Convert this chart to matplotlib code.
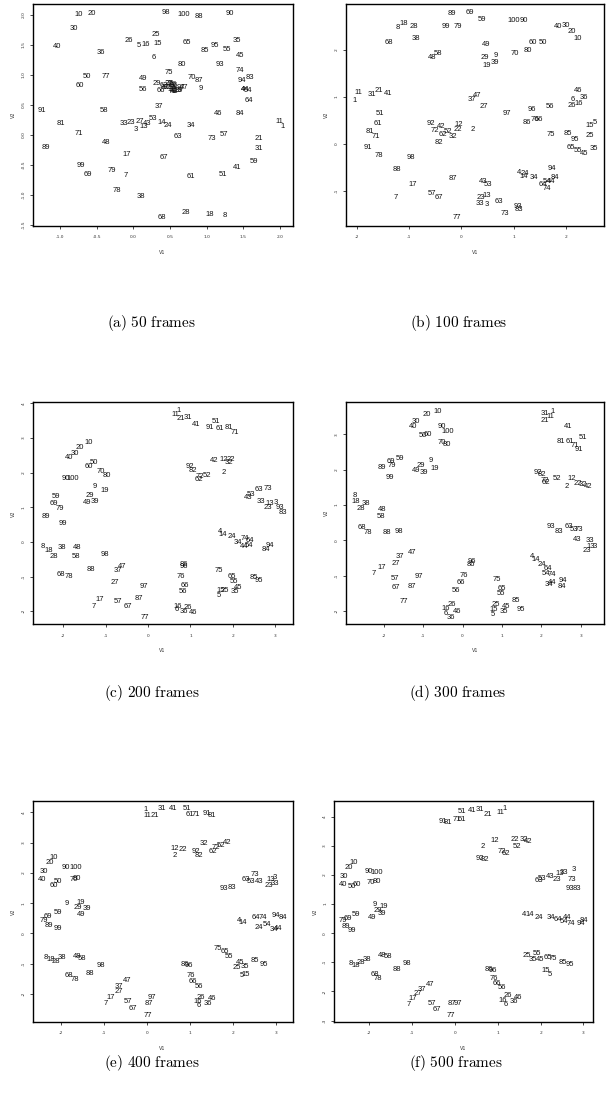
#! /usr/bin/env python3

# Six MDS-style text plots: each point is drawn as its frame number.

import matplotlib
matplotlib.use("Agg")
import matplotlib.pyplot as plt
from matplotlib import font_manager

labels = [str(i) for i in range(1, 101)]

a_x = [2.036, 0.545, 0.032, 1.50, 0.073, 0.273, -0.10, 1.245, 0.918, -0.741,
       1.991, 0.523, 0.141, 0.386, 0.336, 0.173, -0.091, 1.045, 0.605, -0.573,
       1.709, 0.491, -0.032, 0.473, 0.309, -0.055, 0.091, 0.718, 0.318, -0.809,
       1.718, 0.545, -0.123, 0.786, 1.409, -0.445, 0.355, 0.10, 0.627, -1.036,
       1.423, 0.555, 0.191, 1.527, 1.464, 1.159, 0.70, -0.377, 0.136, -0.627,
       1.227, 0.527, 0.264, 1.568, 1.282, 0.136, 1.232, -0.40, 1.645, -0.727,
       0.782, 0.418, 0.609, 1.577, 0.736, 0.382, 0.423, 0.391, -0.614, 0.80,
       -0.741, 0.536, 1.077, 1.455, 0.482, 0.50, -0.377, -0.227, -0.295, 0.664,
       -0.991, 0.432, 1.591, 1.455, 0.977, 0.545, 0.90, 0.891, -1.191, 1.318,
       -1.245, 0.455, 1.182, 1.482, 1.118, 0.555, 0.645, 0.445, -0.709, 0.682]
a_y = [0.14, 0.74, 0.09, 0.76, 1.49, 1.29, -0.68, -1.34, 0.78, 2.01,
       0.22, 0.75, 0.14, 0.21, 1.52, 1.50, -0.32, -1.33, 0.74, 2.03,
       -0.06, 0.86, 0.21, 0.15, 1.67, 1.58, 0.22, -1.29, 0.85, 1.78,
       -0.23, 0.76, 0.19, 0.15, 1.57, 1.38, 0.47, -1.03, 0.74, 1.48,
       -0.54, 0.72, 0.19, 0.76, 1.33, 0.36, 0.79, -0.13, 0.94, 0.98,
       -0.66, 0.79, 0.27, 0.74, 1.43, 0.76, 0.01, 0.40, -0.44, 0.83,
       -0.69, 0.82, -0.03, 0.58, 1.54, 0.74, -0.38, -1.38, -0.65, 0.96,
       0.02, 0.72, -0.06, 1.08, 1.04, 0.86, 0.98, -0.93, -0.59, 1.18,
       0.19, 0.79, 0.96, 0.36, 1.40, 0.84, 0.90, 1.98, -0.21, 2.03,
       0.40, 0.79, 1.18, 0.90, 1.49, 0.83, 0.79, 2.04, -0.50, 2.01]

b_x = [-2.032, 0.21, 0.49, 1.102, 2.554, 2.121, -1.255, -1.21, 0.65, 2.229,
       -1.968, -0.057, 0.484, 1.197, 2.459, 2.248, -0.93, -1.10, 0.484, 2.115,
       -1.586, -0.076, 0.376, 1.217, 2.459, 2.115, 0.42, -0.904, 0.452, 1.994,
       -1.70, -0.153, 0.357, 1.389, 2.522, 2.331, 0.197, -0.86, 0.643, 1.841,
       -1.395, -0.389, 0.42, 1.713, 2.338, 2.236, 0.293, -0.554, 0.478, 1.567,
       -1.548, -0.261, 0.516, 1.643, 2.223, 1.70, -0.567, -0.452, 0.401, 1.357,
       -1.586, -0.357, 0.707, 1.554, 2.089, 1.471, -0.427, -1.382, 0.166, 1.025,
       -1.637, -0.503, 0.822, 1.631, 1.713, 1.408, -0.089, -1.586, -0.07, 1.261,
       -1.752, -0.427, 1.10, 1.79, 2.025, 1.242, -0.172, -1.229, -0.185, 1.185,
       -1.79, -0.592, 1.07, 1.726, 2.172, 1.344, 0.873, -0.962, -0.299, 1.0]
b_y = [0.91, 0.30, -1.28, -0.61, 0.45, 0.95, -1.14, 2.48, 1.87, 2.23,
       1.09, 0.42, -1.09, -0.70, 0.38, 0.86, -0.86, 2.56, 1.67, 2.38,
       1.13, 0.30, -1.14, -0.64, 0.17, 0.82, 0.79, 2.49, 1.84, 2.52,
       1.05, 0.16, -1.26, -0.71, -0.09, 0.98, 0.95, 2.24, 1.72, 2.49,
       1.06, 0.36, -0.79, -0.79, -0.20, 1.13, 1.02, 1.83, 2.10, 2.15,
       0.65, 0.26, -0.86, -0.79, -0.15, 0.80, -1.05, 1.92, 2.65, 2.16,
       0.43, 0.20, -1.23, -0.86, -0.07, 0.52, -1.14, 2.15, 2.80, 1.91,
       0.15, 0.29, -1.48, -0.94, 0.20, 0.52, -1.57, -0.255, 2.49, 1.98,
       0.26, 0.03, -1.40, -0.72, 0.22, 0.45, -0.73, -0.54, 2.76, 2.61,
       -0.07, 0.43, -1.33, -0.53, 0.10, 0.72, 0.65, -0.28, 2.50, 2.63]

c_x = [0.73, 1.774, 3.014, 1.695, 1.68, 0.675, -1.272, -2.488, -1.248, -1.405,
       0.651, 1.774, 2.873, 1.758, 1.711, 0.699, -1.13, -2.339, -1.028, -1.60,
       0.769, 1.947, 2.834, 1.986, 1.813, 0.934, -0.793, -2.214, -1.366, -1.735,
       0.95, 1.90, 2.653, 2.127, 2.049, 0.856, -0.722, -2.025, -1.248, -1.87,
       1.13, 1.554, 2.363, 2.261, 2.135, 1.052, -0.62, -1.68, -1.444, -1.287,
       1.593, 1.389, 2.418, 2.386, 2.025, 0.832, -0.714, -1.688, -2.166, -1.397,
       1.695, 1.209, 2.622, 2.40, 1.978, 0.879, -0.487, -2.049, -2.229, -1.115,
       2.056, 1.209, 2.834, 2.284, 1.68, 0.777, -0.071, -1.876, -2.088, -0.973,
       1.90, 1.068, 3.171, 2.779, 2.504, 0.848, -0.212, -1.358, -2.418, -1.939,
       1.46, 0.989, 3.108, 2.873, 2.622, 0.856, -0.11, -1.013, -2.017, -1.766]
c_y = [3.79, 2.0, 1.14, 0.31, -1.54, -1.94, -1.875, -0.12, 1.60, 2.87,
       3.69, 2.39, 1.10, 0.22, -1.41, -1.86, -1.65, -0.24, 1.47, 2.72,
       3.55, 2.38, 0.99, 0.16, -1.39, -1.90, -1.18, -0.41, 1.33, 2.56,
       3.59, 2.30, 1.18, -0.03, -1.42, -2.02, -0.82, -0.16, 1.18, 2.44,
       3.40, 2.34, 1.28, -0.14, -1.33, -2.04, -0.72, -0.16, 1.13, 2.29,
       3.47, 1.93, 1.37, -0.10, -1.15, -1.42, -1.71, -0.41, 1.31, 2.17,
       3.26, 1.81, 1.52, 0.05, -0.99, -1.25, -1.875, -0.93, 1.12, 2.03,
       3.15, 1.90, 1.53, 0.10, -0.82, -1.01, -2.18, -1.01, 0.95, 1.93,
       3.30, 2.06, 0.85, -0.22, -1.04, -0.64, -1.63, -0.79, 0.74, 1.84,
       3.30, 2.17, 0.99, -0.10, -1.11, -0.70, -1.28, -0.36, 0.53, 1.84]

d_x = [2.276, 2.648, 3.36, 1.768, 0.761, -0.44, -2.259, -2.75, -0.821, -0.643,
       2.242, 2.783, 3.249, 1.853, 0.778, -0.423, -2.056, -2.707, -0.702, -0.914,
       2.09, 2.936, 3.147, 2.005, 0.838, -0.262, -1.701, -2.58, -1.058, -1.184,
       2.09, 3.063, 3.223, 2.20, 1.049, -0.305, -1.591, -2.445, -0.981, -1.269,
       2.682, 3.19, 2.919, 2.276, 1.108, -0.144, -1.278, -2.056, -1.193, -0.998,
       3.071, 2.403, 2.834, 2.107, 0.964, -0.161, -1.709, -2.081, -1.599, -0.888,
       2.724, 2.107, 2.699, 2.174, 0.99, -0.042, -1.692, -2.563, -1.819, -0.533,
       2.851, 2.09, 2.961, 2.276, 0.871, 0.042, -1.489, -2.42, -1.802, -0.389,
       2.496, 2.005, 2.445, 2.53, 1.362, 0.212, -1.278, -1.912, -2.039, -0.533,
       2.961, 1.92, 2.242, 2.555, 1.489, 0.245, -1.10, -1.616, -1.853, -0.381]
d_y = [3.65, 1.52, -0.19, -0.47, -2.09, -2.07, -0.94, 1.26, 2.26, 3.65,
       3.49, 1.76, -0.19, -0.54, -1.97, -1.94, -0.78, 1.09, 2.02, 3.56,
       3.40, 1.60, -0.28, -0.70, -1.83, -1.83, -0.66, 0.91, 2.12, 3.35,
       3.59, 1.58, 0.0, -1.24, -2.02, -2.18, -0.47, 1.05, 1.93, 3.23,
       3.23, 1.52, 0.03, -1.19, -1.88, -2.02, -0.35, 0.88, 1.96, 2.95,
       2.92, 1.74, 0.30, -0.94, -1.52, -1.41, -1.08, 0.68, 2.31, 2.99,
       2.78, 1.62, 0.38, -0.80, -1.38, -1.20, -1.34, 0.36, 2.24, 2.76,
       2.69, 1.69, 0.31, -0.96, -1.10, -1.0, -1.74, 0.21, 2.12, 2.72,
       2.80, 1.86, 0.26, -1.31, -1.72, -0.69, -1.31, 0.21, 2.05, 3.21,
       2.57, 1.93, 0.39, -1.15, -1.97, -0.61, -1.03, 0.25, 1.77, 3.09]

e_x = [-0.031, 0.643, 2.977, 2.132, 2.217, 1.209, -0.953, -2.349, -1.868, -2.163,
       0.016, 0.651, 2.876, 2.217, 2.295, 1.171, -0.845, -2.233, -1.535, -2.256,
       0.186, 0.845, 2.845, 2.612, 2.085, 1.256, -0.667, -2.124, -1.612, -2.411,
       0.341, 1.326, 2.977, 2.953, 2.279, 1.426, -0.651, -1.984, -1.403, -2.438,
       0.597, 1.853, 2.612, 3.054, 2.163, 1.519, -0.473, -1.636, -1.535, -2.062,
       0.922, 1.713, 2.411, 2.798, 1.907, 1.209, -0.434, -1.519, -2.078, -2.163,
       1.0, 1.543, 2.302, 2.535, 1.814, 1.078, -0.318, -1.814, -2.31, -1.71,
       1.14, 1.605, 2.512, 2.705, 1.659, 1.023, 0.016, -1.69, -2.411, -1.63,
       1.504, 1.217, 1.969, 3.155, 2.512, 0.884, 0.047, -1.326, -2.295, -1.884,
       1.403, 1.14, 1.791, 2.992, 2.721, 0.984, 0.109, -1.07, -2.078, -1.667]
e_y = [4.08, 2.58, 1.85, 0.42, -1.40, -2.36, -2.31, -0.80, 0.99, 2.51,
       3.88, 2.80, 1.78, 0.36, -1.34, -2.25, -2.12, -0.85, 1.02, 2.33,
       3.89, 2.77, 1.57, 0.20, -1.13, -2.11, -1.90, -0.91, 0.86, 2.05,
       4.11, 2.96, 1.65, 0.13, -1.10, -2.31, -1.74, -0.79, 0.82, 1.77,
       4.11, 3.0, 1.70, 0.16, -0.96, -2.16, -1.54, -0.75, 0.64, 1.73,
       4.11, 2.89, 1.73, 0.31, -0.75, -1.76, -2.25, -0.82, 0.68, 1.59,
       3.91, 2.72, 1.79, 0.52, -0.60, -1.57, -2.47, -1.37, 0.55, 1.78,
       3.91, 2.83, 1.95, 0.53, -0.49, -1.37, -2.71, -1.51, 0.44, 1.81,
       3.88, 2.58, 1.51, 0.52, -0.88, -1.01, -2.31, -1.32, 0.25, 2.16,
       3.97, 2.71, 1.48, 0.58, -1.02, -1.07, -2.12, -1.04, 0.16, 2.16]

f_x = [1.167, 0.646, 2.763, 1.619, 2.226, 1.191, -1.089, -2.428, -1.883, -2.374,
       1.05, 0.918, 2.436, 1.751, 2.125, 1.113, -0.996, -2.32, -1.673, -2.49,
       0.763, 1.401, 2.389, 1.969, 1.673, 1.23, -0.856, -2.202, -1.79, -2.591,
       0.584, 1.611, 2.553, 2.241, 1.829, 1.385, -0.763, -2.047, -1.712, -2.607,
       0.389, 1.712, 2.218, 2.63, 1.984, 1.463, -0.584, -1.712, -1.946, -2.412,
       0.156, 1.44, 2.023, 2.553, 1.907, 1.089, -0.529, -1.556, -2.319, -2.296,
       0.156, 1.183, 1.961, 2.412, 2.179, 0.973, -0.412, -1.868, -2.49, -1.969,
       0.039, 1.089, 2.739, 2.70, 2.28, 0.911, -0.101, -1.79, -2.607, -1.829,
       -0.171, 0.70, 2.84, 3.012, 2.529, 0.802, -0.062, -1.346, -2.545, -2.008,
       -0.272, 0.584, 2.685, 2.934, 2.685, 0.879, 0.062, -1.128, -2.397, -1.829]
f_y = [4.29, 2.99, 2.19, 0.63, -1.41, -2.44, -2.46, -1.05, 1.0, 2.42,
       4.15, 3.18, 2.06, 0.63, -1.28, -2.31, -2.26, -1.11, 0.92, 2.25,
       4.09, 3.23, 1.85, 0.55, -0.78, -2.14, -2.06, -1.01, 0.77, 1.94,
       4.26, 3.23, 2.08, 0.54, -0.92, -2.35, -1.95, -0.92, 0.66, 1.66,
       4.21, 3.14, 1.94, 0.54, -0.89, -2.21, -1.75, -0.78, 0.54, 1.60,
       4.17, 2.99, 1.89, 0.40, -0.71, -1.87, -2.41, -0.80, 0.63, 1.66,
       3.92, 2.72, 1.81, 0.48, -0.84, -1.72, -2.63, -1.43, 0.49, 1.74,
       3.89, 2.80, 1.83, 0.32, -0.86, -1.57, -2.83, -1.57, 0.42, 1.78,
       3.81, 2.54, 1.55, 0.44, -1.0, -1.23, -2.41, -1.26, 0.23, 2.11,
       3.83, 2.57, 1.52, 0.34, -1.09, -1.29, -2.41, -1.05, 0.09, 2.08]

captions = ["(a) 50 frames", "(b) 100 frames", "(c) 200 frames",
            "(d) 300 frames", "(e) 400 frames", "(f) 500 frames"]

W, H = 608, 1115

installed = {f.name for f in font_manager.fontManager.ttflist}
if "Liberation Sans Narrow" in installed:
    LABEL_FONT, LABEL_SIZE = "Liberation Sans Narrow", 6.3
else:
    LABEL_FONT, LABEL_SIZE = "Liberation Sans", 5.5

plt.rcParams["mathtext.fontset"] = "cm"


def fmt(v, decimals):
    return "{:.{}f}".format(v, decimals)


def panel(fig, box, xs, ys, xlim, ylim, xticks, yticks, dec, caption, cap_xy):
    # box is (left, top, right, bottom) in pixels
    l, t, r, b = box
    ax = fig.add_axes([l / W, 1 - b / H, (r - l) / W, (b - t) / H])
    for x, y, lab in zip(xs, ys, labels):
        ax.text(x, y, lab, ha="center", va="center", fontsize=LABEL_SIZE,
                family=LABEL_FONT, color="#111111")
    ax.set_xlim(*xlim)
    ax.set_ylim(*ylim)
    ax.set_xticks(xticks)
    ax.set_xticklabels([fmt(v, dec) for v in xticks])
    ax.set_yticks(yticks)
    ax.set_yticklabels([fmt(v, dec) for v in yticks], rotation=90, va="center")
    ax.tick_params(axis="both", direction="out", length=2.2, width=0.5,
                   labelsize=3.2, labelcolor="#333333")
    ax.tick_params(axis="x", pad=4.5)
    ax.tick_params(axis="y", pad=2.8)
    for s in ax.spines.values():
        s.set_linewidth(1.0)
    fig.text((l + r) / 2 / W, 1 - (b + 26.5) / H, "V1", ha="center",
             va="center", fontsize=3.5, color="#333333")
    fig.text((l - 19) / W, 1 - (t + b) / 2 / H, "V2", ha="center",
             va="center", rotation=90, fontsize=3.5, color="#333333")
    fig.text(cap_xy[0] / W, 1 - cap_xy[1] / H,
             r"$\mathrm{" + caption.replace(" ", r"\ ") + "}$",
             ha="center", va="center", fontsize=11)
    return ax


def main():
    fig = plt.figure(figsize=(W / 100, H / 100), dpi=100)
    fig.patch.set_facecolor("white")

    panel(fig, (32.7, 4, 292.7, 225.7), a_x, a_y, (-1.372, 2.175), (-1.51, 2.18),
          [-1.0, -0.5, 0.0, 0.5, 1.0, 1.5, 2.0], [-1.5, -1.0, -0.5, 0.0, 0.5, 1.0, 1.5, 2.0],
          1, captions[0], (152, 323))
    panel(fig, (345.7, 4, 604.3, 226), b_x, b_y, (-2.21, 2.73), (-1.745, 2.97),
          [-2, -1, 0, 1, 2], [-1, 0, 1, 2], 0, captions[1], (459, 323))
    panel(fig, (32.7, 402.3, 292.7, 624.3), c_x, c_y, (-2.72, 3.41), (-2.38, 4.03),
          [-2, -1, 0, 1, 2, 3], [-2, -1, 0, 1, 2, 3, 4], 0, captions[2], (152, 693))
    panel(fig, (345.7, 401.7, 604.3, 624.3), d_x, d_y, (-2.97, 3.60), (-2.38, 3.92),
          [-2, -1, 0, 1, 2, 3], [-2, -1, 0, 1, 2, 3], 0, captions[3], (458, 693))
    panel(fig, (32.7, 800.7, 292.7, 1022), e_x, e_y, (-2.66, 3.39), (-2.92, 4.38),
          [-2, -1, 0, 1, 2, 3], [-2, -1, 0, 1, 2, 3, 4], 0, captions[4], (152, 1063))
    panel(fig, (334, 800.7, 593.3, 1022), f_x, f_y, (-2.825, 3.23), (-3.05, 4.55),
          [-2, -1, 0, 1, 2, 3], [-3, -2, -1, 0, 1, 2, 3, 4], 0, captions[5], (456, 1063))

    fig.savefig("out.png", dpi=100)


if __name__ == "__main__":
    main()
